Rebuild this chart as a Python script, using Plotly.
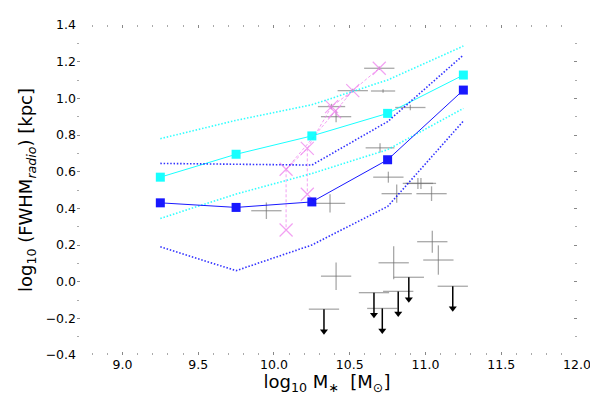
import plotly.graph_objects as go

# binned medians and 16/84 percentile envelopes
mass_bins = [9.25, 9.75, 10.25, 10.75, 11.25]
blue_med = [0.43, 0.405, 0.435, 0.665, 1.045]
blue_hi = [0.645, 0.64, 0.636, 0.873, 1.236]
blue_lo = [0.19, 0.06, 0.20, 0.41, 0.876]
cyan_med = [0.57, 0.695, 0.795, 0.918, 1.127]
cyan_hi = [0.78, 0.88, 0.965, 1.10, 1.285]
cyan_lo = [0.345, 0.478, 0.59, 0.72, 0.945]

# literature relation (violet crosses)
rel_x = [10.08, 10.22, 10.38, 10.52, 10.695]
rel_y = [0.613, 0.727, 0.955, 1.042, 1.164]
rel2_x = [10.08, 10.40, 10.52]
rel2_y = [0.613, 0.927, 1.042]
rel_low_x = [10.08, 10.22]
rel_low_y = [0.282, 0.477]

# individual detections
det_x = [10.695, 10.52, 10.72, 10.38, 10.41, 10.90, 10.70, 10.755, 10.95, 10.97,
         10.81, 11.04, 10.37, 9.95, 11.045, 10.79, 11.085, 10.41]
det_y = [1.164, 1.042, 1.04, 0.955, 0.90, 0.95, 0.73, 0.57, 0.536, 0.536,
         0.48, 0.48, 0.427, 0.387, 0.218, 0.103, 0.118, 0.03]
det_xerr = [0.1, 0.1, 0.08, 0.09, 0.1, 0.1, 0.095, 0.1, 0.1, 0.1,
            0.1, 0.1, 0.1, 0.1, 0.1, 0.1, 0.1, 0.1]
det_yerr = [0.01, 0.01, 0.01, 0.015, 0.03, 0.015, 0.025, 0.03, 0.03, 0.03,
            0.05, 0.04, 0.05, 0.045, 0.06, 0.09, 0.08, 0.075]

# upper limits
lim_x = [10.33, 10.66, 10.715, 10.82, 10.89, 11.18]
lim_y = [-0.15, -0.06, -0.146, -0.053, 0.024, -0.025]
lim_xerr = [0.1, 0.1, 0.1, 0.1, 0.1, 0.1]
arrow_len = 0.12

gray = 'rgba(110,110,110,0.6)'
violet = 'rgba(238,130,238,0.75)'

fig = go.Figure()

# gray crosses
fig.add_trace(go.Scatter(
    x=det_x, y=det_y, mode='markers', marker=dict(size=0.1, color=gray),
    error_x=dict(type='data', array=det_xerr, color=gray, thickness=1.3, width=0),
    error_y=dict(type='data', array=det_yerr, color=gray, thickness=1.3, width=0),
))

# upper limits: bar + arrow
fig.add_trace(go.Scatter(
    x=lim_x, y=lim_y, mode='markers', marker=dict(size=0.1, color=gray),
    error_x=dict(type='data', array=lim_xerr, color=gray, thickness=1.3, width=0),
))
ax, ay = [], []
for x, y in zip(lim_x, lim_y):
    ax += [x, x, None]
    ay += [y, y - arrow_len, None]
fig.add_trace(go.Scatter(x=ax, y=ay, mode='lines', line=dict(color='black', width=1.5)))
fig.add_trace(go.Scatter(
    x=lim_x, y=[y - arrow_len for y in lim_y], mode='markers',
    marker=dict(symbol='triangle-down', size=7, color='black'),
))

# violet relation
vx, vy = [], []
for x, y1, y2 in zip(rel_low_x, rel_y, rel_low_y):
    vx += [x, x, None]
    vy += [y1, y2, None]
fig.add_trace(go.Scatter(x=vx, y=vy, mode='lines', line=dict(color=violet, width=1, dash='3px,2px')))
fig.add_trace(go.Scatter(x=rel2_x, y=rel2_y, mode='lines',
                         line=dict(color=violet, width=1, dash='3px,2px')))
xmark = dict(symbol='x-thin-open', size=13, color=violet, line=dict(color=violet, width=1.2))
fig.add_trace(go.Scatter(
    x=rel_x, y=rel_y, mode='lines+markers', line=dict(color=violet, width=1, dash='3px,2px'),
    marker=xmark,
))
fig.add_trace(go.Scatter(
    x=rel_low_x + rel2_x[1:2], y=rel_low_y + rel2_y[1:2], mode='markers', marker=xmark,
))

# envelopes and medians
for med, hi, lo, col in [(cyan_med, cyan_hi, cyan_lo, '#00ffff'),
                         (blue_med, blue_hi, blue_lo, '#0000ff')]:
    for env in (hi, lo):
        fig.add_trace(go.Scatter(x=mass_bins, y=env, mode='lines',
                                 line=dict(color=col, width=1.6, dash='1.5px,1.8px'), opacity=0.8))
    fig.add_trace(go.Scatter(
        x=mass_bins, y=med, mode='lines+markers', line=dict(color=col, width=1), opacity=0.9,
        marker=dict(symbol='square', size=9, color=col),
    ))

tick_font = dict(family='DejaVu Sans', size=12.5, color='black')
axis_common = dict(
    showgrid=False, zeroline=False, showline=False, mirror='ticks', automargin=False,
    ticks='inside', ticklen=3, tickcolor='#888', tickwidth=1, tickfont=tick_font,
    minor=dict(dtick=0.1, ticks='inside', ticklen=2, tickcolor='#aaa', tickwidth=1),
)
fig.update_xaxes(range=[8.7, 12.0], dtick=0.5, tickformat='.1f', **axis_common,
                 title=dict(text='log<sub>10</sub> M<sub>∗</sub>  [M<sub>⊙</sub>]',
                            font=dict(family='DejaVu Sans', size=18, color='black'), standoff=0))
fig.update_yaxes(range=[-0.4, 1.4], dtick=0.2, tickformat='.1f', **axis_common,
                 title=dict(text='log<sub>10</sub> (FWHM<sub><i>radio</i></sub>) [kpc]',
                            font=dict(family='DejaVu Sans', size=18, color='black'), standoff=8))
# page body adds an 8px offset at top/left, so the figure is 8px smaller each way
fig.update_layout(
    width=590, height=389, showlegend=False,
    margin=dict(l=69, r=21, t=17, b=42),
    plot_bgcolor='white', paper_bgcolor='white',
    font=dict(family='DejaVu Sans', color='black'),
)
fig.write_html("out.html")
